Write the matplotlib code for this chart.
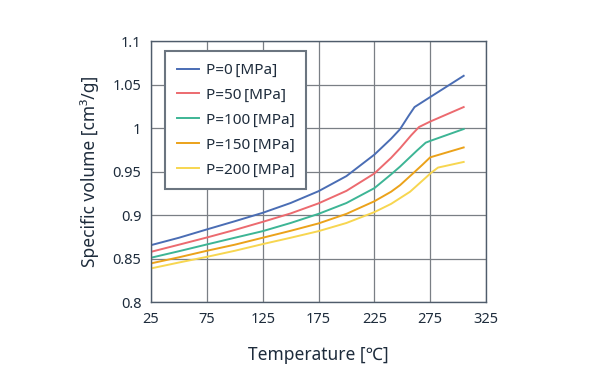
import matplotlib
matplotlib.use("Agg")
import matplotlib.pyplot as plt

plt.rcParams['font.family'] = ['Noto Sans', 'DejaVu Sans']

# temperature [°C] and specific volume [cm3/g]
t_p0 = [25, 50, 75, 100, 125, 150, 175, 200, 225, 240, 248, 256, 261, 275, 305]
v_p0 = [0.8655, 0.874, 0.8836, 0.893, 0.9027, 0.914, 0.9276, 0.945, 0.9697,
        0.988, 0.999, 1.015, 1.0245, 1.036, 1.0605]

t_p50 = [25, 50, 75, 100, 125, 150, 175, 200, 225, 240, 248, 258, 265, 275, 305]
v_p50 = [0.8578, 0.866, 0.8743, 0.883, 0.8923, 0.902, 0.9136, 0.928, 0.948,
         0.966, 0.977, 0.992, 1.0015, 1.0078, 1.0245]

t_p100 = [25, 50, 75, 100, 125, 150, 175, 200, 225, 240, 248, 263, 271, 275, 305]
v_p100 = [0.851, 0.8585, 0.8663, 0.874, 0.8816, 0.891, 0.9015, 0.914, 0.9311,
          0.947, 0.9559, 0.9742, 0.9835, 0.9855, 0.9992]

t_p150 = [25, 50, 75, 100, 125, 150, 175, 200, 225, 240, 248, 261, 268, 275, 305]
v_p150 = [0.8445, 0.8515, 0.859, 0.866, 0.874, 0.882, 0.8905, 0.9015, 0.916,
          0.927, 0.9345, 0.9497, 0.958, 0.9666, 0.978]

t_p200 = [25, 50, 75, 100, 125, 150, 175, 200, 225, 240, 257, 270, 276, 282, 305]
v_p200 = [0.8387, 0.8455, 0.852, 0.859, 0.8667, 0.874, 0.8816, 0.891, 0.9035,
          0.913, 0.927, 0.942, 0.949, 0.9548, 0.9613]

labels = ['P=0\u2009[MPa]', 'P=50\u2009[MPa]', 'P=100\u2009[MPa]',
          'P=150\u2009[MPa]', 'P=200\u2009[MPa]']
colors = ['#4a6db4', '#ec6a6f', '#3db595', '#eba21a', '#f7d650']

x_ticks = [25, 75, 125, 175, 225, 275, 325]
y_ticks = [0.8, 0.85, 0.9, 0.95, 1.0, 1.05, 1.1]
y_ticklabels = ['0.8', '0.85', '0.9', '0.95', '1', '1.05', '1.1']

text_c = '#1e2c3c'

fig = plt.figure(figsize=(6, 3.9), dpi=100)
ax = fig.add_axes([0.2517, 0.2256, 0.5583, 0.668])

series = [(t_p0, v_p0), (t_p50, v_p50), (t_p100, v_p100),
          (t_p150, v_p150), (t_p200, v_p200)]
for (t, v), lab, c in zip(series, labels, colors):
    ax.plot(t, v, color=c, lw=1.4, label=lab)

ax.set_xlim(25, 325)
ax.set_ylim(0.8, 1.1)
ax.set_xticks(x_ticks)
ax.set_yticks(y_ticks)
ax.set_yticklabels(y_ticklabels)
ax.grid(True, color='#7a7f85', lw=0.9)
ax.set_axisbelow(True)
ax.tick_params(length=0, labelsize=10.5, colors=text_c, pad=7)
for s in ax.spines.values():
    s.set_color('#4f5c6b')
    s.set_linewidth(1.0)

ax.set_xlabel('Temperature [℃]', fontsize=12.5, color=text_c, labelpad=14)
ax.set_ylabel('Specific volume [cm³/g]', fontsize=12.5, color=text_c, labelpad=10)

leg = ax.legend(loc='upper left', bbox_to_anchor=(0.042, 0.962), fontsize=11,
                frameon=True, fancybox=False, labelspacing=0.65,
                handlelength=1.5, handletextpad=0.4, borderpad=0.75,
                borderaxespad=0, labelcolor=text_c)
leg.get_frame().set_edgecolor('#6b7580')
leg.get_frame().set_linewidth(1.5)
leg.get_frame().set_facecolor('white')
leg.get_frame().set_alpha(1)

fig.savefig('out.png', dpi=100)
